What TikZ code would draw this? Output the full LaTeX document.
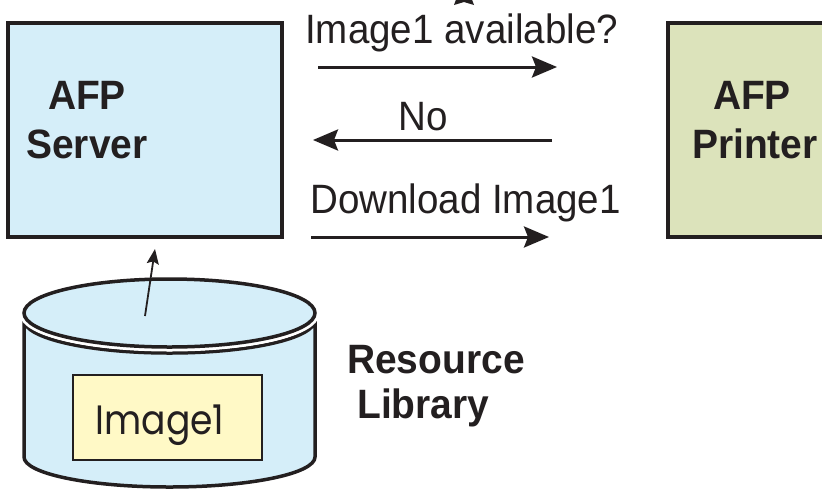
\documentclass[tikz,border=0pt]{standalone}
\usepackage{fontspec}
\setmainfont{Liberation Sans}
\newfontfamily\msgfont{Liberation Sans}[FakeStretch=0.94]
\newfontfamily\lblfont{Liberation Sans}[FakeStretch=0.95]
\newfontfamily\geofont{Poppins}[FakeStretch=0.88]
\usetikzlibrary{arrows.meta}

\definecolor{ink}{HTML}{231F20}
\definecolor{serverblue}{HTML}{D5EEF9}
\definecolor{printergreen}{HTML}{DCE3BB}
\definecolor{imageyellow}{HTML}{FFF9C6}

\tikzset{
  box/.style={draw=ink, line width=3.5pt, inner sep=0pt},
  lbl/.style={anchor=base, inner sep=0pt, text=ink,
    font=\lblfont\bfseries\fontsize{41}{49}\selectfont},
  msg/.style={anchor=base west, inner sep=0pt, text=ink,
    font=\msgfont\fontsize{41}{49}\selectfont},
  flow/.style={draw=ink, line width=3pt,
    -{Stealth[length=25pt, width=21pt, inset=4pt]}},
  fetch/.style={draw=ink, line width=1.8pt,
    -{Stealth[length=15pt, width=12pt, inset=2.5pt]}},
}

\begin{document}
\begin{tikzpicture}[x=1pt, y=-1pt]
\useasboundingbox (0,0) rectangle (822,491);

% server and printer boxes
\node[box, fill=serverblue, minimum width=274pt, minimum height=214pt]
  (server) at (145,130) {};
\node[box, fill=printergreen, minimum width=232pt, minimum height=214pt]
  (printer) at (784,130) {};

\node[lbl] (serverA) at (87,109) {AFP};
\node[lbl] (serverB) at (87,158) {Server};
\node[lbl] (printerA) at (752,109) {AFP};
\node[lbl] (printerB) at (755,158) {Printer};

% resource library cylinder: body, then lid with a white gap
\fill[serverblue, draw=ink, line width=3.5pt, line join=round]
  (24,320) -- (24,457)
  arc[start angle=180, end angle=0, x radius=145.5, y radius=30]
  -- (315,320)
  arc[start angle=0, end angle=180, x radius=145.5, y radius=33]
  -- cycle;
\draw[white, line width=9pt] (169.5,313) ellipse[x radius=145.5, y radius=34];
\draw[ink, fill=serverblue, line width=3.5pt] (169.5,313) ellipse[x radius=145.5, y radius=34];
\coordinate (lid) at (145,316);

\node[draw=ink, line width=1.2pt, fill=imageyellow, inner sep=0pt,
      minimum width=189pt, minimum height=85pt] (image) at (167.5,417.5) {};
\node[anchor=base, inner sep=0pt, text=ink,
      font=\geofont\fontsize{41}{50}\selectfont] (imagetext) at (160,434) {Image1};

\node[anchor=base west, inner sep=0pt, text=ink,
      font=\lblfont\bfseries\fontsize{41}{49}\selectfont] (libA) at (347,373) {Resource};
\node[anchor=base west, inner sep=0pt, text=ink,
      font=\lblfont\bfseries\fontsize{41}{49}\selectfont] (libB) at (357,418) {Library};

% fetch from library into the server
\coordinate (serverin) at (155,249);
\draw[fetch] (lid) -- (serverin);

% message exchange
\node[msg] (ask) at (305,43) {Image1 available?};
\node[msg] (no) at (398,130) {No};
\node[msg] (dl) at (310,213) {Download Image1};

\coordinate (askS) at (318,67);
\coordinate (askE) at (557,67);
\coordinate (noS) at (552,140);
\coordinate (noE) at (313,140);
\coordinate (dlS) at (311,237);
\coordinate (dlE) at (549,237);
\draw[flow] (askS) -- (askE);
\draw[flow] (noS) -- (noE);
\draw[flow] (dlS) -- (dlE);

% tip of an arrowhead at the upper edge
\fill[ink] (464,-22) -- (474,5) -- (464,2) -- (454,5) -- cycle;
\end{tikzpicture}
\end{document}
